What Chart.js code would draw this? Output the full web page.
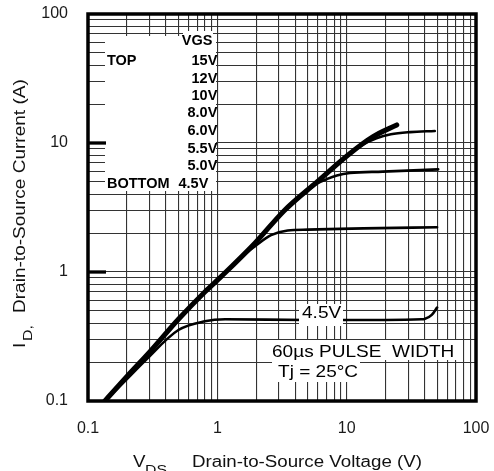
<!DOCTYPE html>
<html>
<head>
<meta charset="utf-8">
<script src="https://cdn.jsdelivr.net/npm/chart.js@4.4.1/dist/chart.umd.min.js"></script>
<style>
html,body{margin:0;padding:0;background:#fff;}
canvas{display:block;}
</style>
</head>
<body>
<canvas id="c" width="494" height="471"></canvas>
<script>
// ---- data (VDS in V, ID in A) ----
const vdsTop = [0.135, 0.2, 0.3, 0.5, 0.8, 1.07, 1.95, 3.3, 5.9, 10.6, 16, 24.4];
const idTop  = [0.1, 0.155, 0.24, 0.43, 0.70, 0.92, 1.67, 3.0, 5.0, 8.3, 11.2, 13.8];

const vds2 = [10.6, 13, 17, 22, 31, 48];
const id2  = [8.3, 9.6, 10.9, 11.7, 12.15, 12.4];

const vds3 = [4.4, 5.9, 7.0, 8.4, 10.6, 19, 51];
const id3  = [3.86, 4.85, 5.25, 5.6, 5.85, 6.0, 6.25];

const vds4 = [1.5, 1.95, 2.6, 3.5, 5, 13.5, 50];
const id4  = [1.29, 1.58, 1.93, 2.1, 2.13, 2.18, 2.22];

const vds45 = [0.135, 0.2, 0.276, 0.5, 0.8, 1.15, 5, 20, 38, 40, 45.5, 50];
const id45  = [0.1, 0.148, 0.205, 0.355, 0.415, 0.43, 0.425, 0.425, 0.43, 0.432, 0.465, 0.53];

const gridSteps = [1, 2, 3, 4, 5, 6, 7, 8, 9];
const decades = [0.1, 1, 10];
const axisMin = 0.1, axisMax = 100;
const tickValues = [0.1, 1, 10, 100];
const tickLabels = ['0.1', '1', '10', '100'];

const legendTitle = 'VGS';
const legendLabels = ['15V', '12V', '10V', '8.0V', '6.0V', '5.5V', '5.0V', '4.5V'];
const noteLines = ['60\u00b5s PULSE  WIDTH', 'Tj = 25\u00b0C'];
const curveLabel = '4.5V';

// ---- helpers ----
const gridValues = decades.flatMap(d => gridSteps.map(s => +(s * d).toPrecision(6))).concat([axisMax]);
const pts = (xs, ys) => xs.map((x, i) => ({x: x, y: ys[i]}));
function labelFor(v) {
  for (let i = 0; i < tickValues.length; i++) {
    if (Math.abs(v - tickValues[i]) < tickValues[i] * 1e-6) return tickLabels[i];
  }
  return '';
}
const FAM = "'Liberation Sans', Arial, Helvetica, sans-serif";
function sText(ctx, txt, x, y, align, sx, font) {
  ctx.save();
  ctx.font = font;
  ctx.translate(x, y);
  ctx.scale(sx, 1);
  ctx.textAlign = align;
  ctx.textBaseline = 'alphabetic';
  ctx.fillText(txt, 0, 0);
  ctx.restore();
}

const overlay = {
  id: 'overlay',
  afterDatasetsDraw(chart) {
    const ctx = chart.ctx;
    const xs = chart.scales.x;
    const L = chart.chartArea.left;
    ctx.save();
    // legend box
    ctx.fillStyle = '#fff';
    ctx.fillRect(L + 17, 36, 111, 155);
    ctx.fillRect(L + 95, 31, 30, 16);
    ctx.fillStyle = '#000';
    const bf = 'bold 14.5px ' + FAM;
    const right = xs.getPixelForValue(1);
    sText(ctx, legendTitle, right - 5, 45, 'right', 1, bf);
    sText(ctx, 'TOP', L + 19, 65, 'left', 1, bf);
    sText(ctx, 'BOTTOM', L + 19, 188, 'left', 1, bf);
    const base = [65, 83, 100, 117, 135, 153, 170, 188];
    legendLabels.forEach((t, i) => {
      const rx = i === legendLabels.length - 1 ? right - 9 : right;
      sText(ctx, t, rx, base[i], 'right', 1, bf);
    });
    // annotation boxes
    ctx.fillStyle = '#fff';
    ctx.fillRect(299, 304, 44, 22);
    ctx.fillRect(270, 340, 188, 20);
    ctx.fillRect(272, 360, 88, 22);
    ctx.fillStyle = '#000';
    const rf = '17px ' + FAM;
    sText(ctx, curveLabel, 302, 318, 'left', 1.12, rf);
    sText(ctx, noteLines[0], 272, 357, 'left', 1.12, rf);
    sText(ctx, noteLines[1], 278, 377, 'left', 1.12, rf);
    ctx.restore();
  },
  afterDraw(chart) {
    const ctx = chart.ctx;
    const a = chart.chartArea;
    const ys = chart.scales.y;
    ctx.save();
    ctx.strokeStyle = '#000';
    ctx.lineWidth = 3.5;
    ctx.strokeRect(a.left, a.top, a.right - a.left, a.bottom - a.top);
    // heavy tick marks at 10 and 1
    ctx.lineWidth = 3.3;
    [10, 1].forEach(v => {
      const y = ys.getPixelForValue(v);
      ctx.beginPath();
      ctx.moveTo(a.left, y);
      ctx.lineTo(a.left + 18, y);
      ctx.stroke();
    });
    // axis titles
    ctx.fillStyle = '#111';
    const tf = '16px ' + FAM;
    const sf = '13.5px ' + FAM;
    sText(ctx, 'V', 133, 467, 'left', 1.17, tf);
    sText(ctx, 'DS,', 145, 474, 'left', 1.17, sf);
    sText(ctx, 'Drain-to-Source Voltage (V)', 192, 467, 'left', 1.17, tf);
    ctx.translate(25, 348);
    ctx.rotate(-Math.PI / 2);
    sText(ctx, 'I', 0, 0, 'left', 1.19, tf);
    sText(ctx, 'D,', 7, 7, 'left', 1.19, sf);
    sText(ctx, 'Drain-to-Source Current (A)', 35, 0, 'left', 1.19, tf);
    ctx.restore();
  }
};

const lineDs = (data, w) => ({
  data: data,
  borderColor: '#000',
  backgroundColor: '#000',
  borderWidth: w,
  pointRadius: 0,
  fill: false,
  cubicInterpolationMode: 'monotone',
  borderCapStyle: 'round',
  borderJoinStyle: 'round'
});

const axisCommon = {
  type: 'logarithmic',
  min: axisMin,
  max: axisMax,
  border: {display: false},
  grid: {color: '#333', lineWidth: 1.1, drawTicks: false},
  afterBuildTicks: s => { s.ticks = gridValues.map(v => ({value: v})); },
};

new Chart(document.getElementById('c'), {
  type: 'line',
  data: {
    datasets: [
      lineDs(pts(vds45, id45), 2.6),
      lineDs(pts(vds4, id4), 2.6),
      lineDs(pts(vds3, id3), 2.6),
      lineDs(pts(vds2, id2), 2.6),
      lineDs(pts(vdsTop, idTop), 5)
    ]
  },
  options: {
    responsive: false,
    animation: false,
    events: [],
    layout: {padding: {top: 14, right: 18, left: 0, bottom: 0}},
    plugins: {legend: {display: false}, tooltip: {enabled: false}},
    scales: {
      x: Object.assign({}, axisCommon, {
        position: 'bottom',
        afterFit: s => { s.height = 70; s.paddingLeft = 0; s.paddingRight = 0; },
        ticks: {autoSkip: false, maxRotation: 0, padding: 18, color: '#1a1a1a',
                font: {family: FAM, size: 16}, callback: v => labelFor(v)}
      }),
      y: Object.assign({}, axisCommon, {
        position: 'left',
        afterFit: s => { s.width = 88; s.paddingTop = 0; s.paddingBottom = 0; },
        ticks: {autoSkip: false, padding: 20, color: '#1a1a1a',
                font: {family: FAM, size: 16}, callback: v => labelFor(v)}
      })
    }
  },
  plugins: [overlay]
});
</script>
</body>
</html>
